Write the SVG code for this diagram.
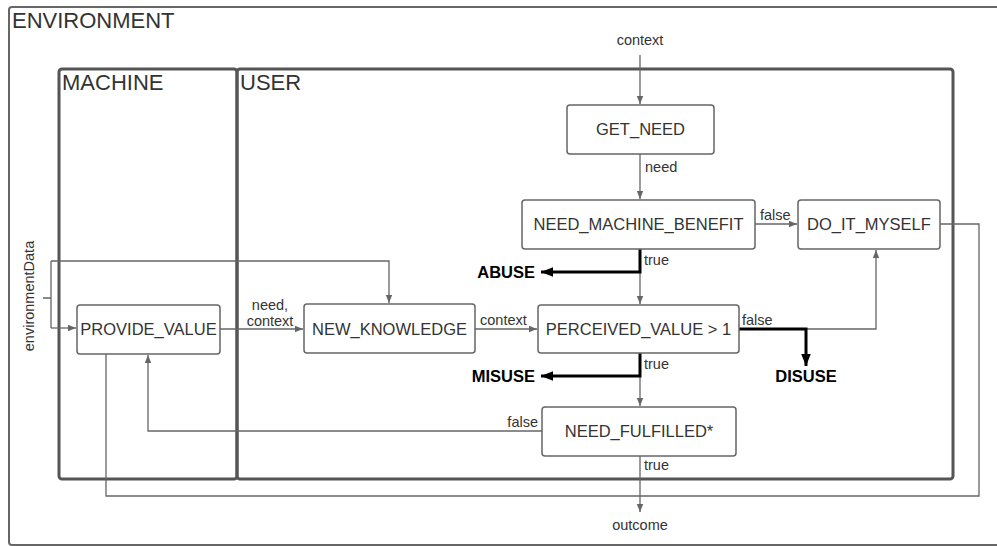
<svg xmlns="http://www.w3.org/2000/svg" width="997" height="546" viewBox="0 0 997 546">
<defs>
<marker id="a" viewBox="0 0 10 10" refX="10" refY="5" markerWidth="8" markerHeight="8" markerUnits="userSpaceOnUse" orient="auto"><path d="M0,1 L10,5 L0,9 Z" fill="#666"/></marker>
<marker id="b" viewBox="0 0 10 10" refX="10" refY="5" markerWidth="12" markerHeight="12" markerUnits="userSpaceOnUse" orient="auto"><path d="M0,1 L10,5 L0,9 Z" fill="#000"/></marker>
<style>
text{font-family:"Liberation Sans",Arial,sans-serif;fill:#333}
.t{font-size:22px}
.n{font-size:16.5px;text-anchor:middle}
.l{font-size:14.5px}
.o{font-size:16.5px;font-weight:bold;fill:#000}
.box{fill:#fff;stroke:#666;stroke-width:1.5}
.c{fill:none;stroke:#666;stroke-width:1.3}
.k{fill:none;stroke:#000;stroke-width:3}
.fr{fill:none;stroke:#555;stroke-width:3}
</style>
</defs>
<rect x="9" y="7" width="1010" height="538" rx="3" fill="#fff" stroke="#666" stroke-width="2"/>
<text class="t" x="12" y="28">ENVIRONMENT</text>
<g id="machine"><rect class="fr" x="59" y="69" width="178" height="410" rx="3"/><text class="t" x="62" y="90">MACHINE</text></g>
<g id="user"><rect class="fr" x="237" y="69" width="716" height="410" rx="3"/><text class="t" x="240" y="90">USER</text></g>
<g id="connectors">
<path class="c" d="M640,55 V104" marker-end="url(#a)"/>
<path class="c" d="M640,154 V199" marker-end="url(#a)"/>
<path class="c" d="M755,224 H797" marker-end="url(#a)"/>
<path class="c" d="M640,249 V304" marker-end="url(#a)"/>
<path class="c" d="M220,329 H303" marker-end="url(#a)"/>
<path class="c" d="M475,329 H537" marker-end="url(#a)"/>
<path class="c" d="M806,329 H876 V250" marker-end="url(#a)"/>
<path class="c" d="M640,353 V406" marker-end="url(#a)"/>
<path class="c" d="M542,431 H148 V355" marker-end="url(#a)"/>
<path class="c" d="M640,456 V512" marker-end="url(#a)"/>
<path class="c" d="M106,354 V496 H640"/>
<path class="c" d="M940,224 H979 V496 H640"/>
<path class="c" d="M43,298 H51 M51,261 V328"/>
<path class="c" d="M51,261 H389 V303" marker-end="url(#a)"/>
<path class="c" d="M51,328 H76" marker-end="url(#a)"/>
<path class="k" d="M640,249 V272 H541" marker-end="url(#b)"/>
<path class="k" d="M640,353 V376 H541" marker-end="url(#b)"/>
<path class="k" d="M739,329 H806 V366" marker-end="url(#b)"/>
<text class="l" x="640" y="45" text-anchor="middle">context</text>
<text class="l" x="645" y="172">need</text>
<text class="l" x="760" y="220">false</text>
<text class="l" x="644" y="265">true</text>
<text class="l" x="480" y="325">context</text>
<text class="l" x="742" y="325">false</text>
<text class="l" x="644" y="369">true</text>
<text class="l" x="538" y="427" text-anchor="end">false</text>
<text class="l" x="644" y="470">true</text>
<text class="l" x="640" y="530" text-anchor="middle">outcome</text>
<text class="l" x="270" y="310" text-anchor="middle">need,</text>
<text class="l" x="270" y="326" text-anchor="middle">context</text>
<text class="l" transform="translate(34,296) rotate(-90)" text-anchor="middle">environmentData</text>
<text class="o" x="535" y="278" text-anchor="end">ABUSE</text>
<text class="o" x="535" y="382" text-anchor="end">MISUSE</text>
<text class="o" x="806" y="382" text-anchor="middle">DISUSE</text>
</g>
<g id="get_need"><rect class="box" x="567" y="105" width="147" height="49" rx="3"/><text class="n" x="640.5" y="135">GET_NEED</text></g>
<g id="need_machine_benefit"><rect class="box" x="522" y="200" width="233" height="49" rx="3"/><text class="n" x="638.5" y="230">NEED_MACHINE_BENEFIT</text></g>
<g id="do_it_myself"><rect class="box" x="798" y="200" width="142" height="49" rx="3"/><text class="n" x="869" y="230">DO_IT_MYSELF</text></g>
<g id="perceived_value"><rect class="box" x="538" y="305" width="201" height="48" rx="3"/><text class="n" x="638.5" y="335">PERCEIVED_VALUE &gt; 1</text></g>
<g id="new_knowledge"><rect class="box" x="304" y="304" width="171" height="49" rx="3"/><text class="n" x="389.5" y="335">NEW_KNOWLEDGE</text></g>
<g id="provide_value"><rect class="box" x="77" y="305" width="143" height="49" rx="3"/><text class="n" x="148.5" y="335">PROVIDE_VALUE</text></g>
<g id="need_fulfilled"><rect class="box" x="542" y="407" width="194" height="49" rx="3"/><text class="n" x="639" y="437">NEED_FULFILLED*</text></g>
</svg>
